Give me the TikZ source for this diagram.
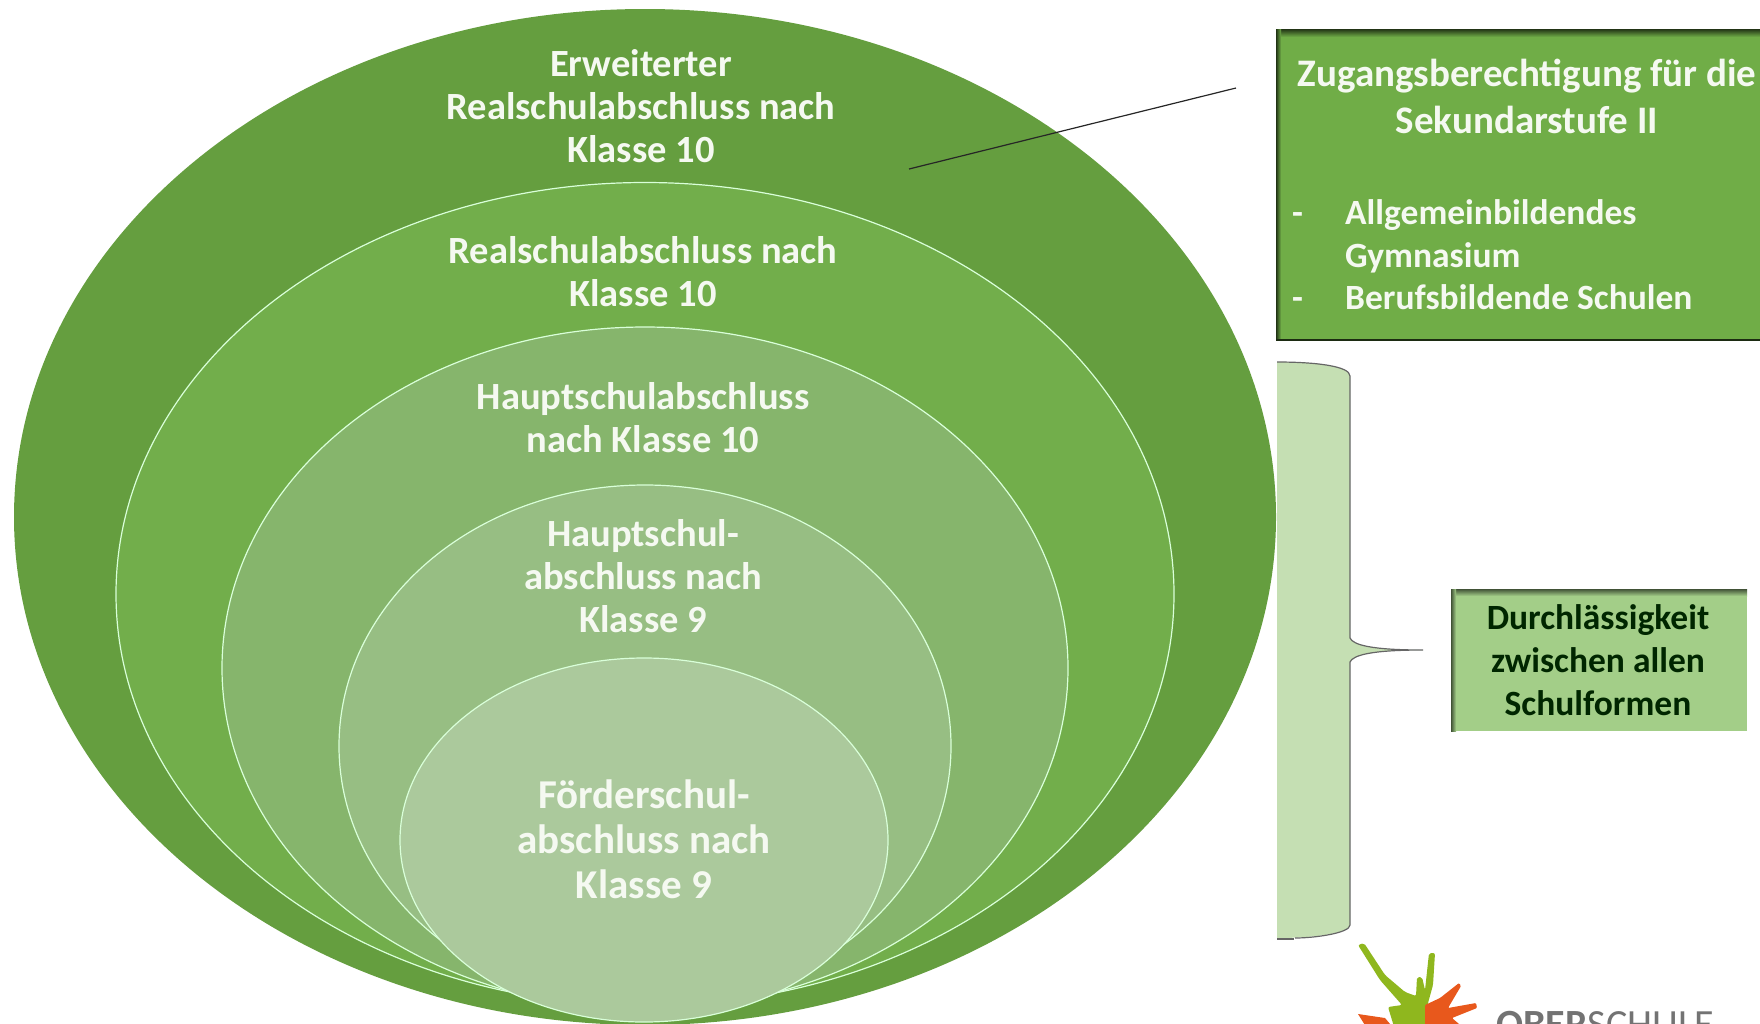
\documentclass[tikz,border=0pt]{standalone}
\usepackage{fontspec}
\setmainfont{Carlito}
\usetikzlibrary{shapes.geometric,positioning}
\definecolor{ringa}{HTML}{659E3F}
\definecolor{ringb}{HTML}{72AE4B}
\definecolor{ringc}{HTML}{86B56C}
\definecolor{ringd}{HTML}{97BE83}
\definecolor{ringe}{HTML}{ABC99C}
\definecolor{boxa}{HTML}{70AD47}
\definecolor{boxb}{HTML}{A3CE88}
\definecolor{bracefill}{HTML}{C5DFB3}
\definecolor{splashg}{HTML}{8FB71E}
\definecolor{splasho}{HTML}{E8581C}
\definecolor{txtw}{HTML}{F5F9F1}

\begin{document}
\begin{tikzpicture}[x=1pt,y=-1pt,
    ring/.style={shape=ellipse,inner sep=0pt,draw=white!85!green,line width=1.2pt},
    lbl/.style={align=center,text=txtw,font=\bfseries\fontsize{38.5}{43}\selectfont},
    lblb/.style={align=center,text=txtw,font=\bfseries\fontsize{41}{45}\selectfont},
    lst/.style={anchor=base west,text=txtw,font=\bfseries\fontsize{35.5}{43}\selectfont,inner sep=0pt}]
    \useasboundingbox (0,0) rectangle (1760,1023);
    \node[ring,draw=none,fill=ringa,minimum width=1262pt,minimum height=1016pt](r1)at(645, 517){};
    \node[ring,fill=ringb,minimum width=1058pt,minimum height=823pt](r2)at(645, 594){};
    \node[ring,fill=ringc,minimum width=846pt,minimum height=682pt](r3)at(645, 668){};
    \node[ring,fill=ringd,minimum width=612pt,minimum height=522pt](r4)at(645, 746){};
    \node[ring,fill=ringe,minimum width=488pt,minimum height=364pt](r5)at(644, 840){};
    \node[lbl](t1)at(641, 106){Erweiterter\\Realschulabschluss nach\\Klasse 10};
    \node[lbl](t2)at(643, 272){Realschulabschluss nach\\Klasse 10};
    \node[lbl](t3)at(643, 418){Hauptschulabschluss\\nach Klasse 10};
    \node[lbl](t4)at(643, 576){Hauptschul-\\abschluss nach\\Klasse 9};
    \node[lblb](t5)at(644, 839){Förderschul-\\abschluss nach\\Klasse 9};
    \fill[boxa](1276, 29) rectangle (1760, 340);
    \shade[top color=black!70!boxa,bottom color=boxa](1276, 29) rectangle (1760, 37);
    \shade[left color=black!70!boxa,right color=boxa](1276, 29) rectangle (1281, 340);
    \draw[black!75!boxa,line width=1.5pt](1276, 340) -- (1760, 340);
    \node[lblb,font=\bfseries\fontsize{39}{47}\selectfont](head)at(1527, 96){Zugangsberechtigung für die\\Sekundarstufe II};
    \node[lst](l0)at(1292, 224){-};
    \node[lst](l1)at(1345, 224){Allgemeinbildendes};
    \node[lst](l2)at(1345, 267){Gymnasium};
    \node[lst](l3)at(1292, 309){-};
    \node[lst](l4)at(1345, 309){Berufsbildende Schulen};
    \fill[boxb](1451, 589) rectangle (1747, 731);
    \shade[top color=black!60!boxb,bottom color=boxb](1451, 589) rectangle (1747, 596);
    \shade[left color=black!60!boxb,right color=boxb](1451, 589) rectangle (1456, 731);
    \node[lbl,font=\bfseries\fontsize{35.5}{43}\selectfont,text=black!85!green](perm)at(1598, 660){Durchlässigkeit\\zwischen allen\\Schulformen};
    \coordinate(la)at(909, 169);
    \coordinate(lb)at(1236, 88);
    \draw[black!85,line width=1.2pt](la) -- (lb);
    \coordinate(bt)at(1277, 362);
    \coordinate(bb)at(1277, 938);
    \coordinate(tip)at(1423, 650);
    \fill[bracefill](bt) .. controls (1315, 362) and (1350, 366) .. (1350, 376) -- (1350, 638) .. controls (1353, 645) and (1372, 650) .. (tip)
        .. controls (1372, 650) and (1353, 655) .. (1350, 662) -- (1350, 925) .. controls (1350, 933) and (1315, 938) .. (bb) -- cycle;
    \draw[black!60,line width=1.2pt](bt) .. controls (1315, 362) and (1350, 366) .. (1350, 376) -- (1350, 638) .. controls (1353, 645) and (1372, 650) .. (tip)
        .. controls (1372, 650) and (1353, 655) .. (1350, 662) -- (1350, 925) .. controls (1350, 933) and (1315, 938) .. (1295, 938);
    \draw[black!60,line width=1.5pt](1277, 939) -- (1294, 939);
    \fill[splashg,rounded corners=2pt](1358, 945) -- (1364, 943) -- (1385, 975) -- (1405, 992) -- (1416, 996) -- (1417, 977) -- (1422, 977) -- (1425, 990) -- (1429, 953) -- (1435, 953) -- (1433, 985) -- (1428, 1003)
        -- (1425, 1030) -- (1395, 1030) -- (1388, 1007) -- (1402, 1005) -- (1380, 980) -- cycle;
    \fill[splasho,rounded corners=1pt](1425, 1005) -- (1440, 998) -- (1459, 983) -- (1461, 986) -- (1448, 1008) -- (1476, 1003) -- (1477, 1008) -- (1452, 1018) -- (1466, 1030) -- (1425, 1030) -- cycle;
    \fill[splasho](1358, 1014) -- (1385, 1018) -- (1395, 1030) -- (1368, 1030) -- cycle;
    \node[anchor=north west,inner sep=0pt,text=black!55,font=\fontsize{40}{40}\selectfont](logo)at(1496, 1011){\textbf{OBER}SCHULE};
\end{tikzpicture}
\end{document}
